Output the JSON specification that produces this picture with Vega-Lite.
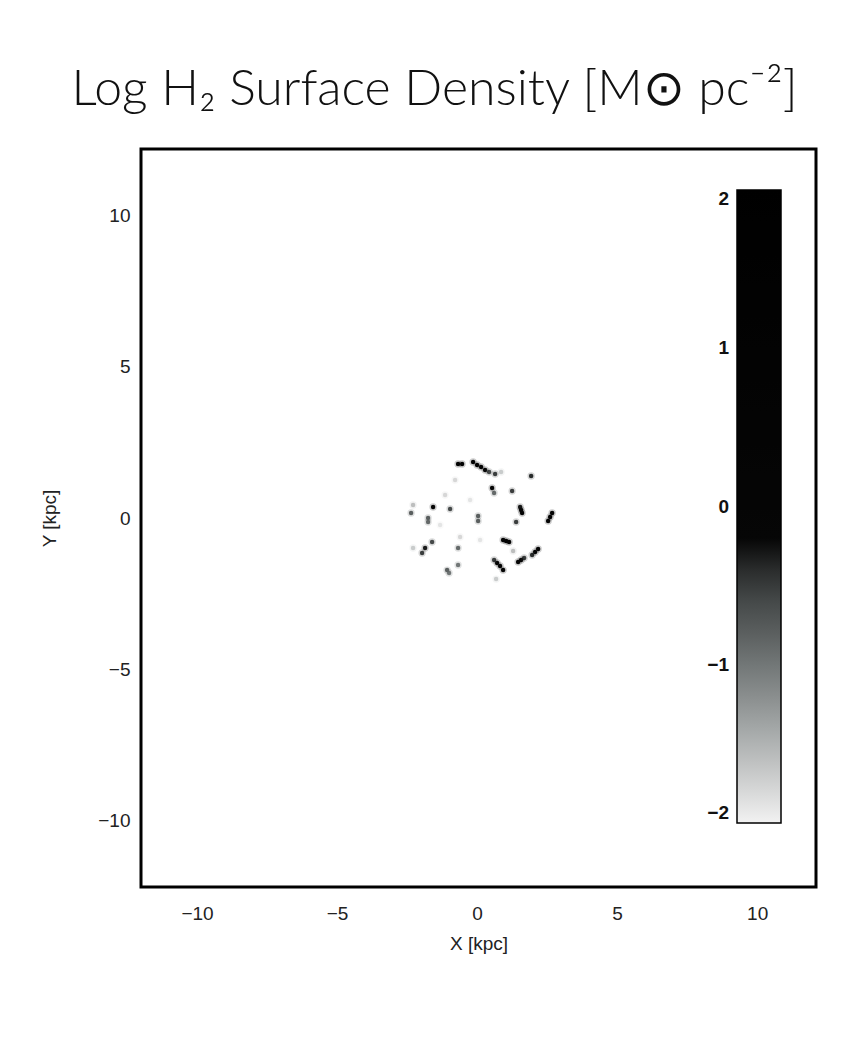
{
  "$schema": "https://vega.github.io/schema/vega-lite/v6.json",
  "autosize": "none",
  "width": 675,
  "height": 738,
  "padding": {"left": 141, "top": 149, "right": 52, "bottom": 167},
  "background": "white",
  "title": {
    "text": "Log H₂ Surface Density [M⊙ pc⁻²]",
    "font": "Lato",
    "fontSize": 50,
    "fontWeight": 300,
    "color": "#111",
    "anchor": "middle",
    "dx": -44,
    "offset": 34
  },
  "config": {
    "view": {"stroke": "black", "strokeWidth": 3, "fill": "white"},
    "axis": {
      "domain": false,
      "ticks": false,
      "grid": false,
      "labelFont": "Liberation Sans",
      "labelFontSize": 19,
      "labelColor": "#222",
      "titleFont": "Liberation Sans",
      "titleFontSize": 19,
      "titleFontWeight": "normal",
      "titleColor": "#222"
    }
  },
  "data": {
    "values": [
      {"x": -0.679, "y": 1.788, "v": 0.8},
      {"x": -0.536, "y": 1.788, "v": 0.8},
      {"x": -0.143, "y": 1.854, "v": 1.0},
      {"x": 0.0, "y": 1.755, "v": 0.9},
      {"x": 0.143, "y": 1.689, "v": 0.6},
      {"x": 0.286, "y": 1.589, "v": 0.0},
      {"x": 0.429, "y": 1.523, "v": -0.6},
      {"x": 0.643, "y": 1.457, "v": -0.5},
      {"x": 0.857, "y": 1.523, "v": -1.7},
      {"x": 1.929, "y": 1.391, "v": -0.4},
      {"x": 0.536, "y": 0.993, "v": 0.0},
      {"x": 0.607, "y": 0.828, "v": -0.9},
      {"x": 1.25, "y": 0.894, "v": -0.5},
      {"x": 1.536, "y": 0.364, "v": -0.3},
      {"x": 1.571, "y": 0.265, "v": 0.2},
      {"x": 1.607, "y": 0.166, "v": 0.0},
      {"x": 1.393, "y": -0.132, "v": -0.5},
      {"x": 2.536, "y": -0.099, "v": 0.6},
      {"x": 2.607, "y": 0.033, "v": 0.8},
      {"x": 2.679, "y": 0.166, "v": 0.3},
      {"x": 0.929, "y": -0.728, "v": 0.2},
      {"x": 1.036, "y": -0.762, "v": 0.5},
      {"x": 1.143, "y": -0.795, "v": 0.0},
      {"x": 1.464, "y": -1.457, "v": -0.2},
      {"x": 1.571, "y": -1.391, "v": 0.0},
      {"x": 1.679, "y": -1.325, "v": -0.5},
      {"x": 1.964, "y": -1.225, "v": -0.4},
      {"x": 2.071, "y": -1.126, "v": 0.0},
      {"x": 2.179, "y": -1.026, "v": -0.2},
      {"x": 0.929, "y": -1.722, "v": 0.5},
      {"x": 0.607, "y": -1.391, "v": -0.5},
      {"x": 0.714, "y": -1.49, "v": 0.0},
      {"x": 0.821, "y": -1.589, "v": 0.0},
      {"x": 0.036, "y": 0.066, "v": -0.8},
      {"x": 0.036, "y": -0.099, "v": -0.8},
      {"x": -1.571, "y": 0.364, "v": 0.3},
      {"x": -0.964, "y": 0.298, "v": -0.6},
      {"x": -2.357, "y": 0.166, "v": -0.8},
      {"x": -2.286, "y": 0.43, "v": -1.6},
      {"x": -1.75, "y": 0.0, "v": -0.8},
      {"x": -1.75, "y": -0.132, "v": -0.9},
      {"x": -1.607, "y": -0.795, "v": -0.6},
      {"x": -1.857, "y": -0.993, "v": -0.3},
      {"x": -1.964, "y": -1.159, "v": -0.5},
      {"x": -0.679, "y": -0.993, "v": -0.9},
      {"x": -0.679, "y": -1.556, "v": -1.0},
      {"x": -1.071, "y": -1.722, "v": -0.8},
      {"x": -1.0, "y": -1.821, "v": -1.0},
      {"x": -2.286, "y": -0.993, "v": -1.7},
      {"x": -0.607, "y": -0.629, "v": -1.8},
      {"x": -0.786, "y": 1.258, "v": -1.8},
      {"x": -1.143, "y": 0.762, "v": -1.8},
      {"x": -0.25, "y": 0.596, "v": -1.9},
      {"x": 1.286, "y": -1.093, "v": -1.6},
      {"x": 0.679, "y": -2.02, "v": -1.7},
      {"x": -1.321, "y": -0.232, "v": -1.9},
      {"x": 0.107, "y": -0.728, "v": -1.9}
    ]
  },
  "encoding": {
    "x": {
      "field": "x",
      "type": "quantitative",
      "scale": {"domain": [-12, 12.1], "nice": false, "zero": false},
      "axis": {"values": [-10, -5, 0, 5, 10], "title": "X [kpc]", "labelPadding": 17, "titlePadding": 11}
    },
    "y": {
      "field": "y",
      "type": "quantitative",
      "scale": {"domain": [-12.2, 12.2], "nice": false, "zero": false},
      "axis": {"values": [-10, -5, 0, 5, 10], "title": "Y [kpc]", "labelPadding": 11, "titlePadding": 38}
    },
    "order": {"field": "v", "type": "quantitative"},
    "color": {
      "field": "v",
      "type": "quantitative",
      "scale": {
        "domain": [-2, -1.5, -1, -0.5, -0.2, 2],
        "range": ["#f2f2f2", "#b0b3b3", "#727777", "#3a3e3e", "#060606", "#000000"],
        "clamp": true
      },
      "legend": {
        "type": "gradient",
        "orient": "none",
        "legendX": 596,
        "legendY": 41,
        "direction": "vertical",
        "gradientLength": 633,
        "gradientThickness": 44,
        "gradientStrokeColor": "black",
        "gradientStrokeWidth": 1.5,
        "gradientOpacity": 1,
        "title": null,
        "values": [-2, -1, 0, 1, 2],
        "format": "d",
        "labelOffset": -52,
        "labelFont": "Liberation Sans",
        "labelFontSize": 19,
        "labelFontWeight": "bold",
        "labelColor": "#111",
        "labelOverlap": false,
        "padding": 0,
        "encode": {
          "labels": {"enter": {"align": {"value": "right"}}}
        }
      }
    }
  },
  "layer": [
    {
      "mark": {"type": "point", "filled": true, "shape": "circle", "size": 20, "opacity": 1}
    },
    {
      "mark": {"type": "point", "filled": true, "shape": "circle", "size": 55, "opacity": 0.2}
    }
  ]
}
